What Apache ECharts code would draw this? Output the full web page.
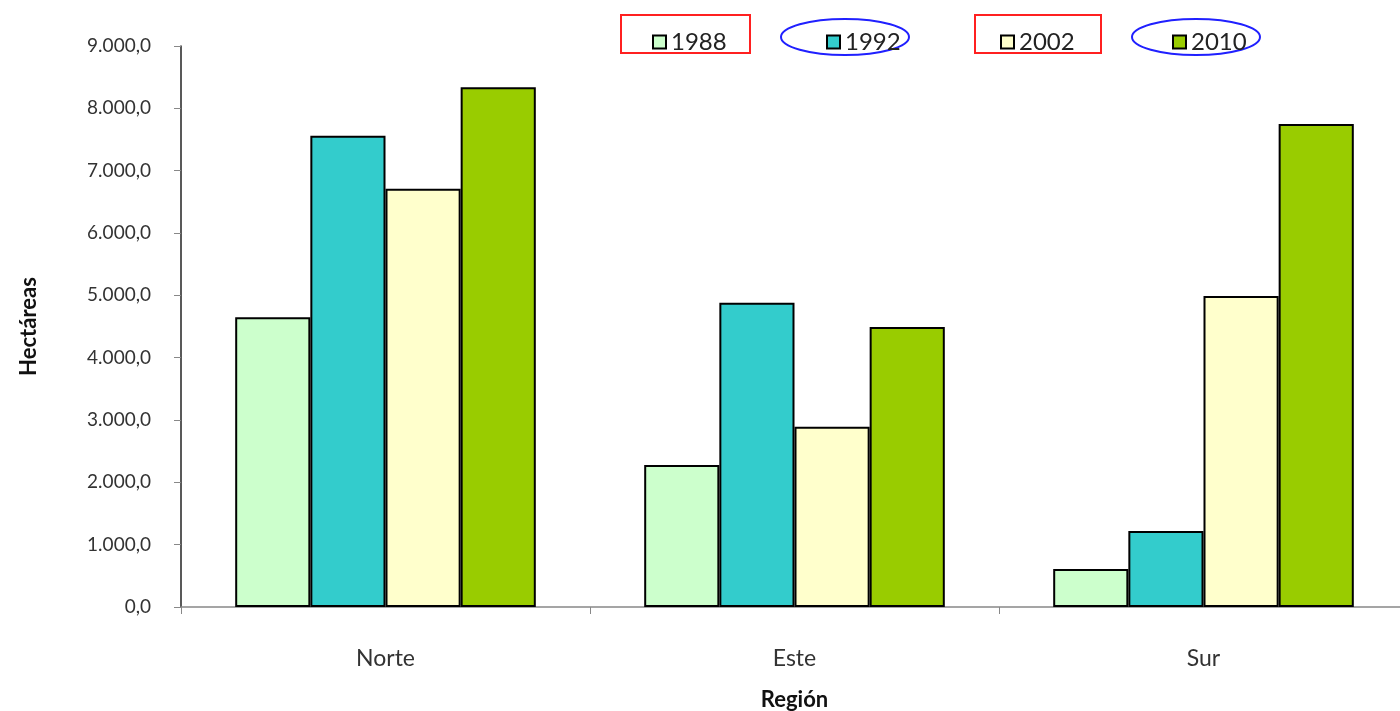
<!DOCTYPE html>
<html>
<head>
<meta charset="utf-8">
<title>Hectáreas por región</title>
<script src="https://cdn.jsdelivr.net/npm/echarts@6/dist/echarts.min.js"></script>
<style>
  html, body { margin: 0; padding: 0; background: #fff; }
  #chart { width: 1400px; height: 711px; }
</style>
</head>
<body>
<div id="chart"></div>
<script>
// datos
const regiones = ['Norte', 'Este', 'Sur']
const anios = ['1988', '1992', '2002', '2010']
const v1988 = [4650, 2280, 610]
const v1992 = [7560, 4880, 1220]
const v2002 = [6710, 2890, 4990]
const v2010 = [8340, 4490, 7750]
const colores = ['#ccffcc', '#33cccc', '#ffffcc', '#99cc00']
const valores = [v1988, v1992, v2002, v2010]

const fuente = 'Lato, "DejaVu Sans", sans-serif'

// formato 9.000,0
function fmt(v) {
  let s = Math.round(v).toString().replace(/\B(?=(\d{3})+(?!\d))/g, '.')
  return s + ',0'
}

let legendLeft = [652, 826, 1000, 1172]
let legends = anios.map((a, i) => ({
  data: [{ name: a, icon: 'rect' }],
  left: legendLeft[i],
  top: 30,
  padding: 0,
  itemWidth: 13,
  itemHeight: 13,
  itemGap: 5,
  textStyle: { fontFamily: fuente, fontSize: 24, color: '#222' }
}))

let series = anios.map((a, i) => ({
  name: a,
  type: 'bar',
  data: valores[i],
  barGap: '0%',
  barCategoryGap: '26.5%',
  itemStyle: { color: colores[i], borderColor: '#000', borderWidth: 2 }
}))

let option = {
  animation: false,
  backgroundColor: '#fff',
  legend: legends,
  grid: { left: 181, right: -8, top: 46, bottom: 104, outerBoundsMode: 'none', containLabel: false },
  xAxis: {
    type: 'category',
    data: regiones,
    name: 'Región',
    nameLocation: 'middle',
    nameGap: 82,
    nameTextStyle: { fontFamily: fuente, fontSize: 22, fontWeight: 'bold', color: '#111' },
    axisLine: { lineStyle: { color: '#888', width: 1.5 } },
    axisTick: { show: true, length: 7, lineStyle: { color: '#888' } },
    axisLabel: { fontFamily: fuente, fontSize: 23, color: '#333', margin: 40 }
  },
  yAxis: {
    type: 'value',
    min: 0,
    max: 9000,
    interval: 1000,
    name: 'Hectáreas',
    nameLocation: 'middle',
    nameGap: 141,
    nameRotate: 90,
    nameTextStyle: { fontFamily: fuente, fontSize: 22, fontWeight: 'bold', color: '#111' },
    axisLine: { show: true, lineStyle: { color: '#222', width: 1.5 } },
    axisTick: { show: true, length: 7, lineStyle: { color: '#888' } },
    splitLine: { show: false },
    axisLabel: { fontFamily: fuente, fontSize: 19, color: '#333', margin: 30, formatter: fmt }
  },
  // marcas (rectángulos y elipses) que rodean la leyenda
  graphic: [
    { type: 'rect', shape: { x: 621, y: 15, width: 129, height: 38 }, style: { fill: 'none', stroke: '#ff2020', lineWidth: 2 } },
    { type: 'rect', shape: { x: 975, y: 15, width: 126, height: 38 }, style: { fill: 'none', stroke: '#ff2020', lineWidth: 2 } },
    { type: 'ellipse', shape: { cx: 845, cy: 37, rx: 64, ry: 18 }, style: { fill: 'none', stroke: '#2020ff', lineWidth: 2 } },
    { type: 'ellipse', shape: { cx: 1196, cy: 37, rx: 64, ry: 18 }, style: { fill: 'none', stroke: '#2020ff', lineWidth: 2 } }
  ],
  series: series
}

let myChart = echarts.init(document.getElementById('chart'))
myChart.setOption(option)
</script>
</body>
</html>
